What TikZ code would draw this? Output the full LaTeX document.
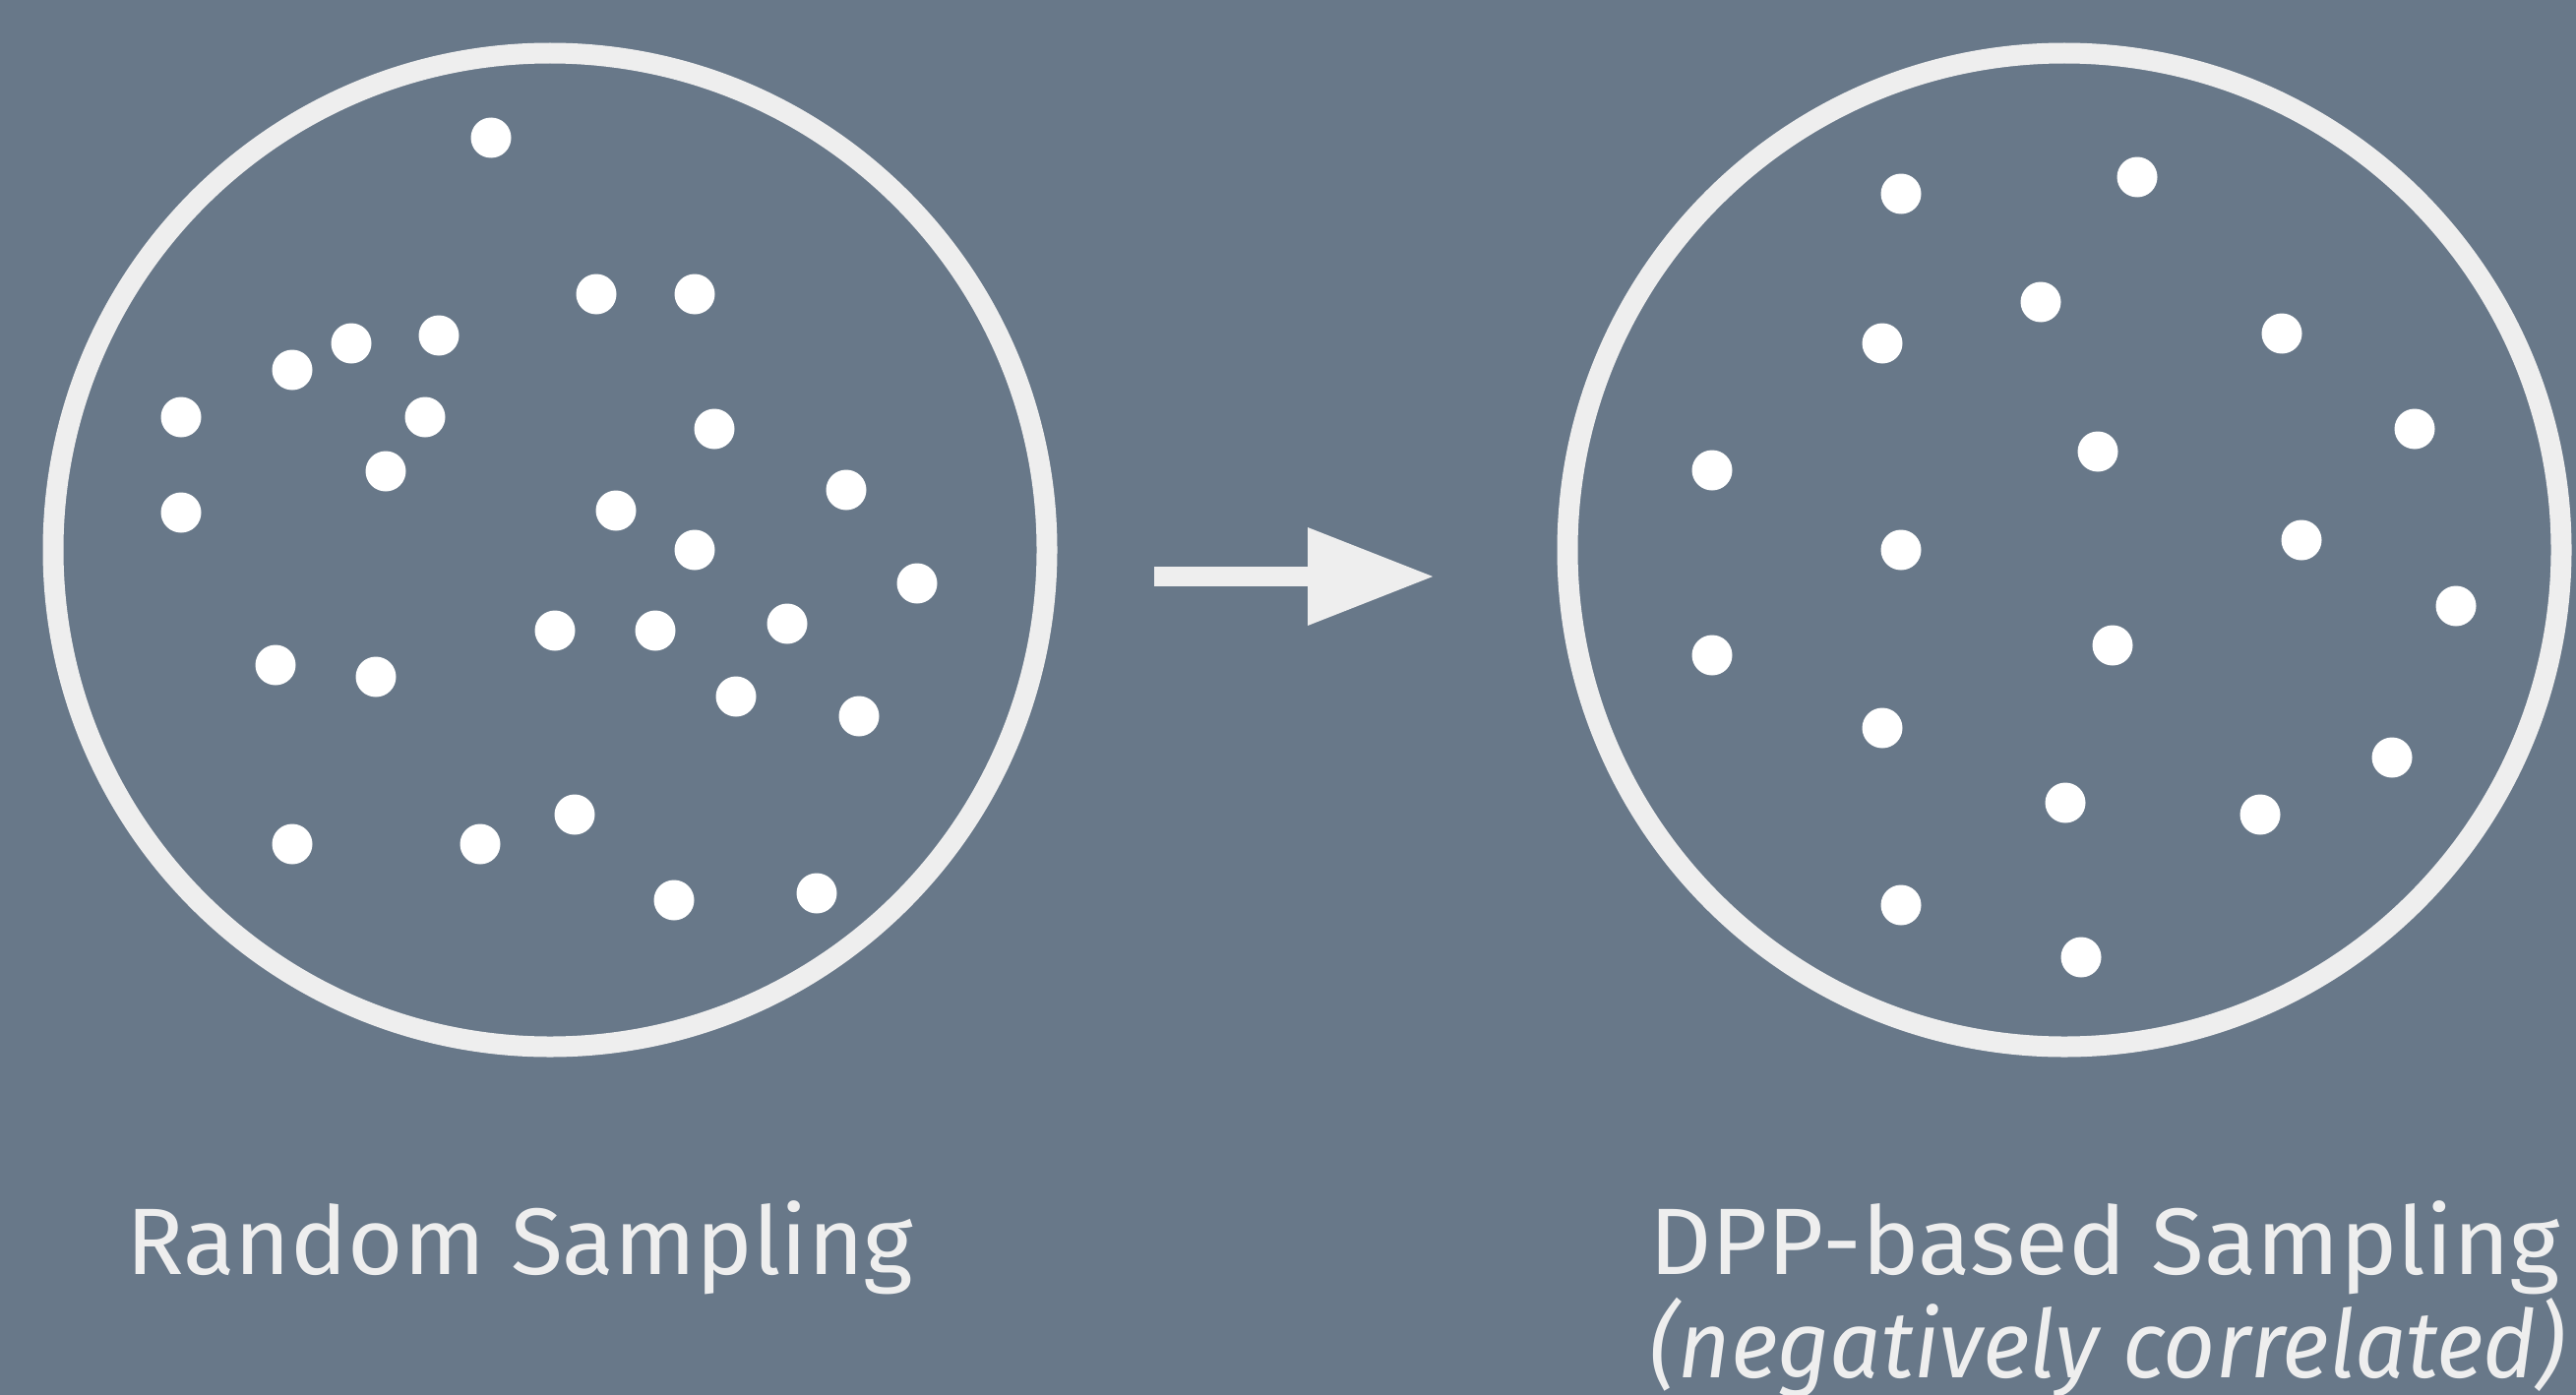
\documentclass[tikz,border=0pt]{standalone}
\usepackage{fontspec}
\setmainfont{Fira Sans}
\usetikzlibrary{arrows.meta}
\definecolor{bg}{HTML}{687889}
\definecolor{ink}{HTML}{EEEEEE}
\tikzset{
  dot/.style={circle, fill=white, inner sep=0pt, minimum size=20.5pt},
  ring/.style={circle, draw=ink, line width=10.5pt, inner sep=0pt, minimum size=505pt},
  lbl/.style={text=ink, inner sep=0pt, font=\fontsize{48}{52}\selectfont},
  bigarrow/.style={draw=ink, line width=10pt, -{Triangle[length=64.5pt, width=47pt, fill=ink]}},
}
\begin{document}
\begin{tikzpicture}[x=0.5pt, y=-0.5pt]
\fill[bg] (0,0) rectangle (2618,1418);
\useasboundingbox (0,0) rectangle (2618,1418);
% circles
\node[ring] (left) at (559,559) {};
\node[ring] (right) at (2098,559) {};
% arrow
\coordinate (as) at (1173,586);
\coordinate (ae) at (1458,586);
\draw[bigarrow] (as) -- (ae);
% random dots
\foreach \n/\x/\y in {1/499/140, 2/606/299, 3/706/299, 4/297/376, 5/357/349, 6/446/341,
  7/184/424, 8/432/424, 9/726/436, 10/392/479, 11/184/521, 12/626/519, 13/706/559,
  14/860/498, 15/932/593, 16/564/641, 17/666/641, 18/800/634, 19/280/676, 20/382/688,
  21/748/708, 22/873/728, 23/297/858, 24/488/858, 25/584/828, 26/685/915, 27/830/908}
  \node[dot] (l\n) at (\x,\y) {};
% DPP dots
\foreach \n/\x/\y in {1/1932/197, 2/2172/180, 3/2074/307, 4/1913/349, 5/2319/339,
  6/2454/436, 7/1740/478, 8/2132/459, 9/1932/559, 10/2339/549, 11/2496/616,
  12/1740/666, 13/2147/656, 14/1913/740, 15/2431/770, 16/2099/816, 17/2297/828,
  18/1932/920, 19/2115/973}
  \node[dot] (r\n) at (\x,\y) {};
% labels
\node[lbl, anchor=base west] (t1) at (128,1295) {\scalebox{1.01}[1]{Random Sampling}};
\node[lbl, anchor=base west] (t2) at (1676,1295) {\scalebox{1.025}[1]{DPP-based Sampling}};
\node[lbl, anchor=base west] (t3) at (1676,1400) {\scalebox{0.96}[1]{\itshape (negatively correlated)}};
\end{tikzpicture}
\end{document}
